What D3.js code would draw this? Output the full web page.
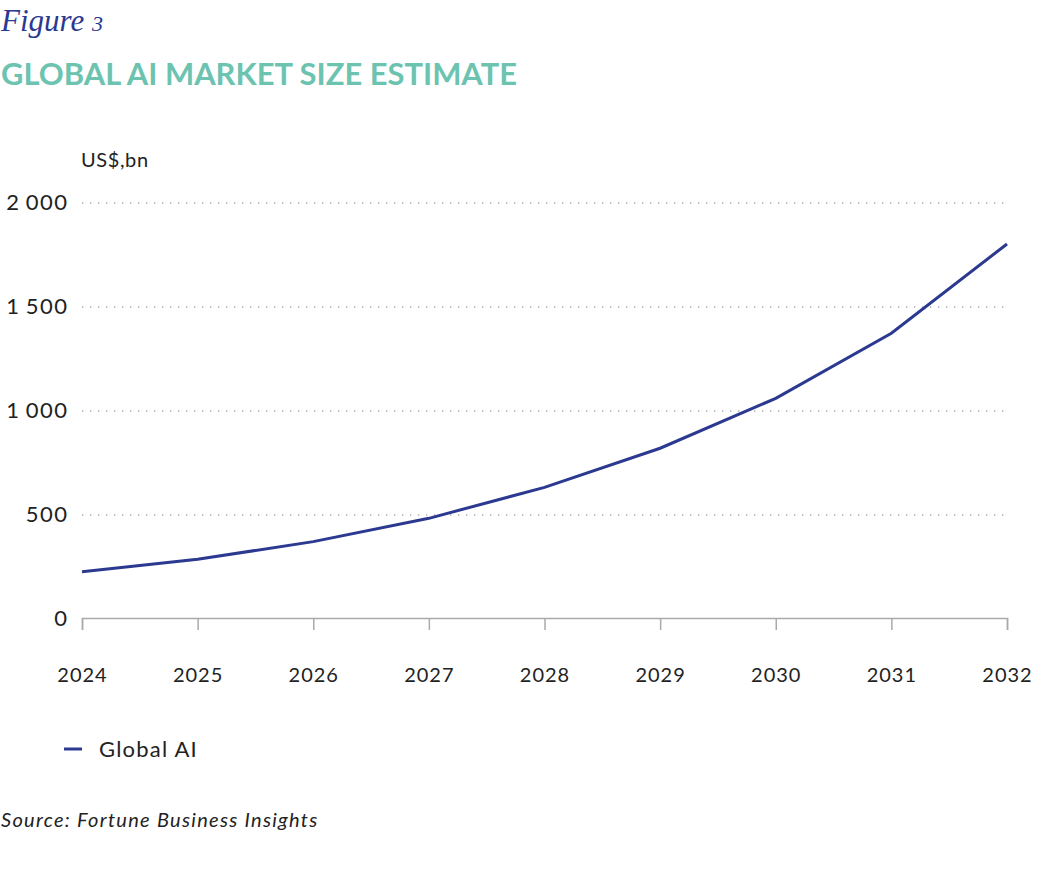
<!DOCTYPE html>
<html lang="en">

<head>
    <meta charset="UTF-8">
    <title>Global AI Market Size Estimate</title>
    <style>
        body { margin: 0; background: #fff; }
        text { font-family: Lato, 'Noto Sans', sans-serif; fill: #222; }
    </style>
</head>

<body>
    <div id="d3-container"></div>
    <script src="https://d3js.org/d3.v7.min.js"></script>
    <script>
        const years = [2024, 2025, 2026, 2027, 2028, 2029, 2030, 2031, 2032]
        const globalAI = [227, 287, 372, 484, 633, 821, 1061, 1374, 1803]
        const yTicks = [0, 500, 1000, 1500, 2000]
        const seriesName = 'Global AI'

        const chartWidth = 1063
        const chartHeight = 879
        const navy = '#2b3990'

        const svg = d3.select('#d3-container')
            .append('svg')
            .attr('width', chartWidth)
            .attr('height', chartHeight)

        // headings
        svg.append('text')
            .attr('x', 1).attr('y', 31)
            .style('font-family', "'Liberation Serif', serif")
            .style('font-style', 'italic')
            .style('font-size', '31px')
            .style('fill', navy)
            .text('Figure ')
            .append('tspan')
            .style('font-size', '22px')
            .text('3')

        svg.append('text')
            .attr('x', 1).attr('y', 85)
            .attr('textLength', 516)
            .attr('lengthAdjust', 'spacingAndGlyphs')
            .style('font-size', '31px')
            .style('font-weight', 700)
            .style('fill', '#6cc3b0')
            .text('GLOBAL AI MARKET SIZE ESTIMATE')

        const xScale = d3.scaleLinear()
            .domain([2024, 2032])
            .range([82, 1007])
        const yScale = d3.scaleLinear()
            .domain([0, 2000])
            .range([619, 203])

        // dotted gridlines
        svg.append('g')
            .selectAll('line')
            .data(yTicks.filter(d => d > 0))
            .enter()
            .append('line')
            .attr('x1', 82).attr('x2', 1007)
            .attr('y1', d => yScale(d)).attr('y2', d => yScale(d))
            .attr('stroke', '#aaa')
            .attr('stroke-width', 1.3)
            .attr('stroke-dasharray', '1.3 6.7')

        // y labels, narrow space as thousands separator
        svg.append('g')
            .selectAll('text')
            .data(yTicks)
            .enter()
            .append('text')
            .attr('x', 68.5)
            .attr('y', d => yScale(d) + 7)
            .attr('text-anchor', 'end')
            .style('font-size', '22px')
            .style('letter-spacing', '1.5px')
            .style('word-spacing', '-2px')
            .text(d => d >= 1000 ? String(d).slice(0, -3) + ' ' + String(d).slice(-3) : d)

        svg.append('text')
            .attr('x', 81).attr('y', 167)
            .style('font-size', '20px')
            .style('letter-spacing', '0.6px')
            .text('US$,bn')

        // x axis
        const xAxis = d3.axisBottom(xScale)
            .tickValues(years)
            .tickFormat(d3.format('d'))
            .tickSize(12)
            .tickPadding(38)

        const gx = svg.append('g')
            .attr('transform', 'translate(0, 618)')
            .call(xAxis)
        gx.select('.domain').attr('stroke', '#aaa').attr('stroke-width', 1.5)
        gx.selectAll('.tick line').attr('stroke', '#aaa').attr('stroke-width', 1.5)
        gx.selectAll('.tick text')
            .style('font-family', "Lato, 'Noto Sans', sans-serif")
            .style('font-size', '20px')
            .style('letter-spacing', '1px')
            .style('fill', '#222')

        // series line
        const line = d3.line()
            .x((d, i) => xScale(years[i]))
            .y(d => yScale(d))

        svg.append('path')
            .datum(globalAI)
            .attr('d', line)
            .attr('fill', 'none')
            .attr('stroke', navy)
            .attr('stroke-width', 3)

        // legend
        svg.append('line')
            .attr('x1', 64).attr('x2', 82)
            .attr('y1', 749).attr('y2', 749)
            .attr('stroke', navy)
            .attr('stroke-width', 3)
        svg.append('text')
            .attr('x', 99).attr('y', 757)
            .style('font-size', '22px')
            .style('letter-spacing', '1.2px')
            .text(seriesName)

        svg.append('text')
            .attr('x', 1).attr('y', 827)
            .style('font-size', '20px')
            .style('font-style', 'italic')
            .style('letter-spacing', '1.3px')
            .text('Source: Fortune Business Insights')
    </script>
</body>

</html>
